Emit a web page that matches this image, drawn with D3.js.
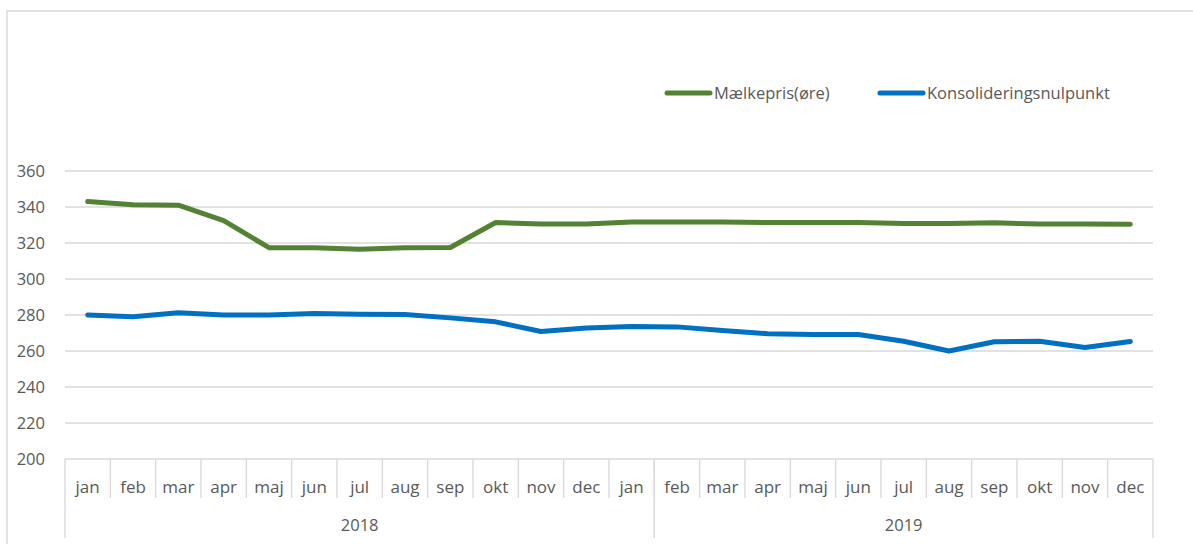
<!DOCTYPE html>
<meta http-equiv="content-type" content="text/html; charset=utf-8" />
<html lang="da">
<head>
<title>Mælkepris og konsolideringsnulpunkt</title>
<script src="https://d3js.org/d3.v7.min.js"></script>
<style>
body { margin: 0; background: #fff; }
svg { display: block; font-family: "Open Sans", sans-serif; }
</style>
</head>
<body>
<div id="plot"></div>
<script>
// data
var months = ["jan","feb","mar","apr","maj","jun","jul","aug","sep","okt","nov","dec","jan",
              "feb","mar","apr","maj","jun","jul","aug","sep","okt","nov","dec"];
var years = [{label: "2018", n: 13}, {label: "2019", n: 11}];
var maelkepris = [343, 341.3, 341, 332.4, 317.4, 317.4, 316.5, 317.3, 317.5, 331.4, 330.5, 330.5, 331.6,
                  331.6, 331.6, 331.4, 331.4, 331.4, 330.8, 330.8, 331.2, 330.5, 330.5, 330.4];
var nulpunkt = [280, 279, 281.2, 280, 280, 280.8, 280.4, 280.3, 278.4, 276.2, 270.8, 272.8, 273.6,
                273.4, 271.4, 269.6, 269.2, 269.2, 265.4, 260, 265.1, 265.4, 262, 265.3];
var yTicks = [200, 220, 240, 260, 280, 300, 320, 340, 360];
var series = [
  {name: "Mælkepris(øre)", values: maelkepris, color: "#548235"},
  {name: "Konsolideringsnulpunkt", values: nulpunkt, color: "#0070C0"}
];

var width = 1193, height = 544;
var plotLeft = 65, plotRight = 1153, plotTop = 171, plotBottom = 459;
var grey = "#d9d9d9", txt = "#595959";

var svg = d3.select("#plot").append("svg")
  .attr("width", width).attr("height", height);

// outer chart border (runs off the picture right and bottom)
svg.append("rect").attr("x", 7).attr("y", 11)
  .attr("width", width + 10).attr("height", height + 10)
  .attr("fill", "none").attr("stroke", grey).attr("stroke-width", 1.5);

var x = d3.scaleBand().domain(d3.range(months.length)).range([plotLeft, plotRight]);
var y = d3.scaleLinear().domain([200, 360]).range([plotBottom, plotTop]);

// gridlines
svg.append("g").selectAll("line").data(yTicks.slice(1)).enter().append("line")
  .attr("x1", plotLeft).attr("x2", plotRight)
  .attr("y1", d => y(d)).attr("y2", d => y(d))
  .attr("stroke", grey).attr("stroke-width", 1.3);

// y labels
svg.append("g").selectAll("text").data(yTicks).enter().append("text")
  .attr("x", 45).attr("y", d => y(d)).attr("dy", "0.35em")
  .attr("text-anchor", "end").attr("fill", txt).style("font-size", "16.5px")
  .text(d => d);

// x axis: baseline, month separators, year separators
svg.append("line").attr("x1", plotLeft).attr("x2", plotRight).attr("y1", plotBottom).attr("y2", plotBottom)
  .attr("stroke", grey).attr("stroke-width", 1.3);

var g = svg.append("g");
g.selectAll("line").data(d3.range(1, months.length)).enter().append("line")
  .attr("x1", d => x(d)).attr("x2", d => x(d))
  .attr("y1", plotBottom).attr("y2", 498)
  .attr("stroke", grey).attr("stroke-width", 1.3);

g.selectAll("text").data(months).enter().append("text")
  .attr("x", (d, i) => x(i) + x.bandwidth() / 2).attr("y", 487).attr("dy", "0.35em")
  .attr("text-anchor", "middle").attr("fill", txt).style("font-size", "17px")
  .text(d => d);

var start = 0;
years.forEach(function (yr) {
  var x0 = x(start), x1 = start + yr.n < months.length ? x(start + yr.n) : plotRight;
  [x0, x1].forEach(function (xx) {
    svg.append("line").attr("x1", xx).attr("x2", xx).attr("y1", plotBottom).attr("y2", 538)
      .attr("stroke", grey).attr("stroke-width", 1.3);
  });
  svg.append("text").attr("x", (x0 + x1) / 2).attr("y", 525).attr("dy", "0.35em")
    .attr("text-anchor", "middle").attr("fill", txt).style("font-size", "16.5px")
    .text(yr.label);
  start += yr.n;
});

// lines
var line = d3.line().x((d, i) => x(i) + x.bandwidth() / 2).y(d => y(d));
series.forEach(function (s) {
  svg.append("path").datum(s.values).attr("d", line)
    .attr("fill", "none").attr("stroke", s.color).attr("stroke-width", 5)
    .attr("stroke-linecap", "round").attr("stroke-linejoin", "round");
});

// legend
var legX = [667, 880];
series.forEach(function (s, i) {
  svg.append("line").attr("x1", legX[i]).attr("x2", legX[i] + 43).attr("y1", 93).attr("y2", 93)
    .attr("stroke", s.color).attr("stroke-width", 5).attr("stroke-linecap", "round");
  svg.append("text").attr("x", legX[i] + 47).attr("y", 93).attr("dy", "0.35em")
    .attr("fill", txt).style("font-size", "16.5px").text(s.name);
});
</script>
</body>
</html>
